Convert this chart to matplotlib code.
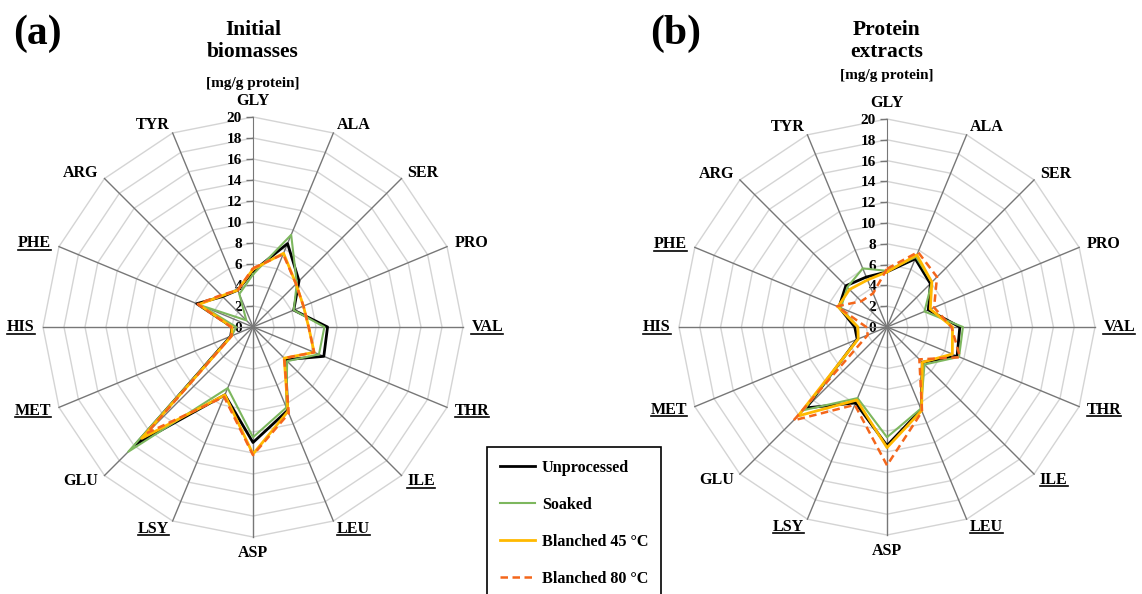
import numpy as np
import matplotlib.pyplot as plt
from matplotlib.lines import Line2D

plt.rcParams['font.family'] = ['Liberation Serif', 'DejaVu Serif']
plt.rcParams['font.weight'] = 'bold'

# -----------------------------
# data  [mg/g protein]
# -----------------------------
amino = ['GLY', 'ALA', 'SER', 'PRO', 'VAL', 'THR', 'ILE', 'LEU',
         'ASP', 'LSY', 'GLU', 'MET', 'HIS', 'PHE', 'ARG', 'TYR']
underlined = ['VAL', 'THR', 'ILE', 'LEU', 'LSY', 'MET', 'HIS', 'PHE']

series_names = ['Unprocessed', 'Soaked', 'Blanched 45 °C', 'Blanched 80 °C']

# (a) initial biomasses
bio_unprocessed = [5.3, 8.6, 6.2, 4.2, 7.1, 7.3, 4.4, 8.6, 11.0, 7.0, 15.8, 2.3, 2.0, 5.8, 4.1, 3.8]
bio_soaked      = [5.0, 9.5, 5.9, 4.2, 6.8, 6.8, 4.6, 8.3, 10.5, 6.3, 16.8, 2.2, 1.6, 5.3, 0.9, 3.4]
bio_blanch45    = [5.5, 7.6, 5.8, 5.2, 5.3, 6.3, 4.2, 8.7, 12.1, 7.0, 15.0, 2.2, 2.0, 5.6, 4.2, 3.8]
bio_blanch80    = [5.6, 7.5, 5.8, 5.2, 5.3, 6.3, 4.2, 8.9, 12.2, 7.2, 14.3, 2.2, 2.1, 5.7, 4.3, 3.8]

# (b) protein extracts
ext_unprocessed = [5.3, 7.1, 5.9, 4.3, 7.0, 7.3, 4.8, 8.6, 11.4, 7.9, 11.0, 3.1, 3.1, 5.0, 5.6, 5.2]
ext_soaked      = [5.4, 7.3, 6.1, 3.9, 7.3, 7.5, 5.1, 8.5, 10.6, 7.4, 11.3, 3.0, 2.8, 4.8, 5.4, 6.1]
ext_blanch45    = [5.3, 7.5, 6.1, 4.5, 6.3, 6.8, 4.8, 8.7, 11.6, 7.6, 12.1, 3.0, 2.8, 5.1, 5.1, 4.9]
ext_blanch80    = [5.6, 7.8, 6.8, 4.9, 6.2, 7.6, 4.4, 8.8, 13.3, 8.1, 12.7, 2.0, 2.0, 5.2, 3.5, 3.5]

colors = ['black', '#7db75e', '#ffb900', '#f4661b']
widths = [2.0, 1.5, 2.0, 1.8]
styles = ['-', '-', '-', (0, (3, 1.8))]

rmax = 20
rings = np.arange(2, rmax + 1, 2)
ang = np.arange(len(amino)) * 2 * np.pi / len(amino)

W, H = 1142, 594
fig = plt.figure(figsize=(W / 100, H / 100), dpi=100)

spoke_col = '#777777'
web_col = '#d4d4d4'


def radar(ax, data, cx, cy, s, x0, x1, title, unit_y):
    ax.set_xlim((x0 - cx) / s, (x1 - cx) / s)
    ax.set_ylim((cy - H) / s, cy / s)
    ax.set_aspect('auto')

    # web
    for r in rings:
        xs = np.append(r * np.sin(ang), 0)
        ys = np.append(r * np.cos(ang), r)
        ax.plot(xs, ys, color=web_col, lw=1.0, zorder=1)
    for a in ang[1:]:
        ax.plot([0, rmax * np.sin(a)], [0, rmax * np.cos(a)], color=spoke_col, lw=1.0, zorder=2)

    # GLY axis = left spine with the value ticks
    for sp in ['top', 'right', 'bottom']:
        ax.spines[sp].set_visible(False)
    ax.spines['left'].set_position(('data', 0))
    ax.spines['left'].set_bounds(0, rmax)
    ax.spines['left'].set_color(spoke_col)
    ax.spines['left'].set_zorder(2)
    ax.set_xticks([])
    ax.set_yticks(np.arange(0, rmax + 1, 2))
    ax.tick_params(axis='y', direction='out', length=5, width=1, color=spoke_col,
                   labelsize=11, pad=3)

    lines = []
    for vals, c, lw, ls in zip(data, colors, widths, styles):
        v = np.array(vals + vals[:1])
        a = np.append(ang, ang[0])
        ln, = ax.plot(v * np.sin(a), v * np.cos(a), color=c, lw=lw, ls=ls, zorder=3)
        lines.append(ln)

    # category labels
    labs = []
    off = 0.8
    for name, a in zip(amino, ang):
        sa, ca = np.sin(a), np.cos(a)
        ha = 'left' if sa > 0.2 else ('right' if sa < -0.2 else 'center')
        va = 'bottom' if ca > 0.95 else ('top' if ca < -0.95 else 'center')
        t = ax.text((rmax + off) * sa, (rmax + off) * ca, name, ha=ha, va=va, fontsize=11.5)
        labs.append((name, t))

    ax.text(0, (cy - unit_y) / s, '[mg/g protein]', ha='center', va='center', fontsize=11)
    ax.text(0, (cy - 41) / s, title, ha='center', va='center', fontsize=15.5, linespacing=1.15)
    return lines, labs


axA = fig.add_axes([0, 0, 570 / W, 1])
axB = fig.add_axes([570 / W, 0, 1 - 570 / W, 1])

linesA, labsA = radar(axA, [bio_unprocessed, bio_soaked, bio_blanch45, bio_blanch80],
                      253, 327, 10.5, 0, 570, 'Initial\nbiomasses', 83)
linesB, labsB = radar(axB, [ext_unprocessed, ext_soaked, ext_blanch45, ext_blanch80],
                      887, 327, 10.4, 570, W, 'Protein\nextracts', 75)

fig.text(13 / W, 1 - 34 / H, '(a)', fontsize=30, va='center', ha='left')
fig.text(650 / W, 1 - 34 / H, '(b)', fontsize=30, va='center', ha='left')

leg = fig.legend(linesA, series_names, loc='upper left',
                 bbox_to_anchor=(487 / W, 1 - 447 / H), fontsize=11.6,
                 frameon=True, fancybox=False, edgecolor='black', framealpha=1,
                 handlelength=2.2, handletextpad=0.4, labelspacing=1.3,
                 borderpad=0.8, borderaxespad=0)
leg.get_frame().set_linewidth(1.2)

# underline the essential amino acids
fig.canvas.draw()
rend = fig.canvas.get_renderer()
for name, t in labsA + labsB:
    if name in underlined:
        bb = t.get_window_extent(rend)
        y = bb.y0 + 1.5
        fig.add_artist(Line2D([bb.x0 / W, bb.x1 / W], [y / H, y / H],
                              color='black', lw=1.2, transform=fig.transFigure))

fig.savefig('out.png', dpi=100)
